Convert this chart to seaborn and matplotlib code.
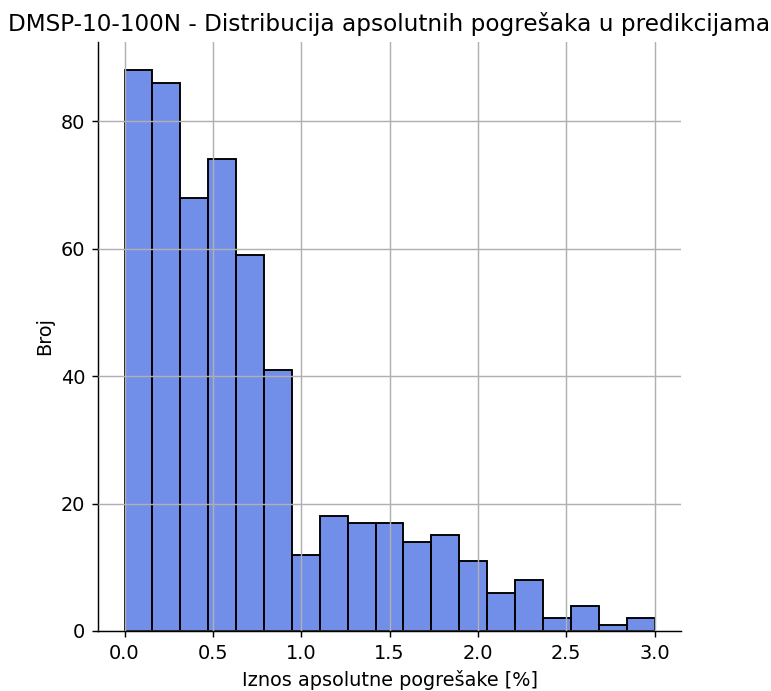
import numpy as np
import pandas as pd
import matplotlib
matplotlib.use("Agg")
import matplotlib.pyplot as plt
import seaborn as sns

# Data
x_min = 0.0
x_max = 3.0
n_bins = 19
counts = [88, 86, 68, 74, 59, 41, 12, 18, 17, 17, 14, 15, 11, 6, 8, 2, 4, 1, 2]

title = "DMSP-10-100N - Distribucija apsolutnih pogrešaka u predikcijama"
xlabel = "Iznos apsolutne pogrešake [%]"
ylabel = "Broj"

df = pd.DataFrame({
    "err": (np.linspace(x_min, x_max, n_bins + 1)[:-1]
            + np.linspace(x_min, x_max, n_bins + 1)[1:]) / 2,
    "n": counts,
})

plt.rcParams.update({
    "font.size": 10.7,
    "axes.titlesize": 12.8,
    "axes.labelsize": 10.7,
    "xtick.labelsize": 10.7,
    "ytick.labelsize": 10.7,
})

dpi = 130
fig = plt.figure(figsize=(771 / dpi, 691 / dpi), dpi=dpi)
ax = fig.add_axes([98 / 771, 60 / 691, (681 - 98) / 771, (631 - 42) / 691])

sns.histplot(data=df, x="err", weights="n", bins=n_bins, binrange=(x_min, x_max),
             color="royalblue", alpha=0.75, edgecolor="black", linewidth=1.05, ax=ax)

ax.set_axisbelow(False)
ax.grid(True, color="#b0b0b0", linewidth=0.8)
sns.despine(ax=ax)
ax.set_title(title)
ax.set_xlabel(xlabel)
ax.set_ylabel(ylabel)
ax.set_xticks([0.0, 0.5, 1.0, 1.5, 2.0, 2.5, 3.0])
ax.set_yticks([0, 20, 40, 60, 80])

fig.savefig("out.png", dpi=dpi)
